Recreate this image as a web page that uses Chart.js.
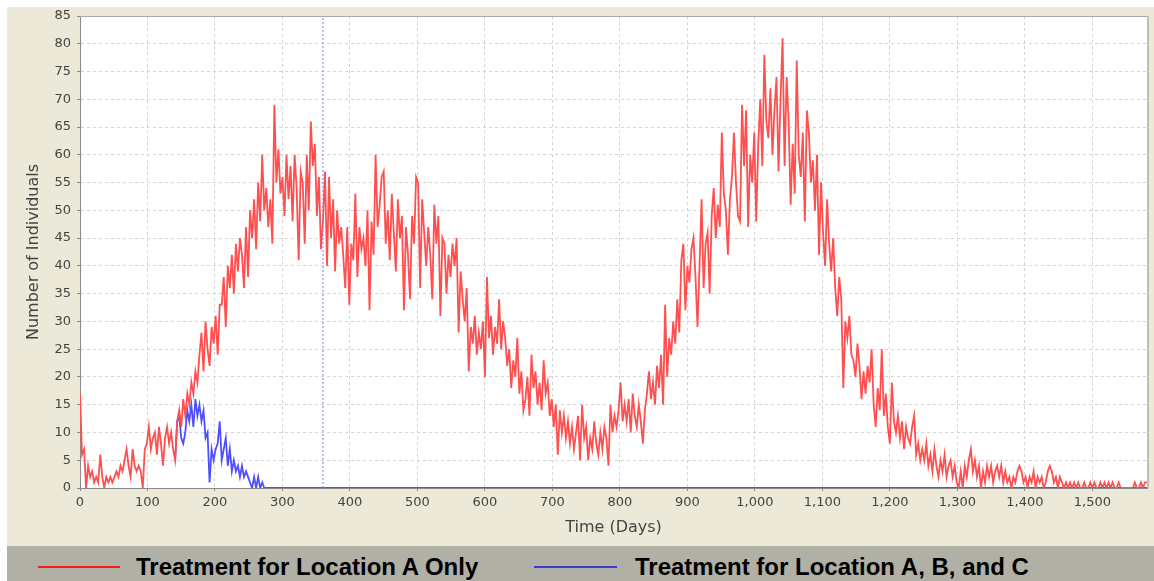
<!DOCTYPE html>
<html><head><meta charset="utf-8">
<script src="https://cdn.jsdelivr.net/npm/chart.js@4.4.1/dist/chart.umd.min.js"></script>
<style>
html,body{margin:0;padding:0;background:#fff;}
body{width:1154px;height:581px;position:relative;overflow:hidden;}
#panel{position:absolute;left:7px;top:7px;width:1147px;height:539px;background:#ECE9D8;}
#legend{position:absolute;left:7px;top:546px;width:1147px;height:35px;background:#B1B0A6;}
.sw{position:absolute;top:20px;height:2px;}
.lt{position:absolute;top:9px;font:bold 24px "Liberation Sans",Arial,sans-serif;line-height:24px;color:#000;white-space:nowrap;}
</style></head>
<body>
<div id="panel"><canvas id="c" width="1147" height="539"></canvas></div>
<div id="legend">
  <div class="sw" style="left:31px;width:82px;background:#ff1a1a;"></div>
  <div class="lt" style="left:129px;">Treatment for Location A Only</div>
  <div class="sw" style="left:527px;width:83px;background:#3a3acc;"></div>
  <div class="lt" style="left:628px;">Treatment for Location A, B, and C</div>
</div>
<script>
// ---- data ----
const STEP = 3; // days between samples
const xMin = 0, xMax = 1581, xStep = 100;
const yMin = 0, yMax = 85, yStep = 5;
const markerDay = 360;
const seriesNames = ['Treatment for Location A Only', 'Treatment for Location A, B, and C'];
// Treatment for Location A Only: sampled every 3 days from day 0
const redValues = [
  17, 6, 7, 0, 4, 2, 3, 1, 2, 1,
  6, 2, 0, 2, 1, 2, 1, 2, 3, 2,
  4, 3, 5, 7, 4, 2, 7, 4, 3, 4,
  3, 0, 7, 8, 11, 7, 9, 10, 6, 11,
  8, 4, 9, 11, 8, 10, 7, 5, 12, 14,
  11, 16, 13, 17, 15, 19, 17, 21, 19, 24,
  28, 21, 30, 25, 22, 29, 26, 31, 24, 33,
  33, 38, 29, 40, 36, 42, 35, 44, 39, 45,
  42, 36, 47, 38, 50, 45, 52, 43, 55, 48,
  60, 50, 54, 47, 52, 44, 69, 55, 61, 53,
  56, 49, 60, 52, 58, 48, 60, 54, 41, 57,
  55, 44, 60, 50, 66, 58, 62, 49, 56, 43,
  48, 57, 40, 56, 45, 52, 39, 50, 44, 47,
  42, 36, 47, 33, 44, 41, 53, 38, 47, 43,
  45, 40, 50, 32, 48, 42, 60, 47, 51, 56,
  57, 44, 50, 41, 53, 46, 39, 52, 45, 49,
  32, 47, 42, 34, 49, 44, 56, 55, 36, 52,
  46, 40, 47, 42, 34, 51, 44, 49, 31, 45,
  44, 35, 42, 38, 44, 40, 45, 28, 39, 34,
  30, 36, 21, 29, 26, 31, 24, 28, 25, 30,
  20, 38, 27, 31, 24, 29, 26, 34, 25, 30,
  27, 22, 25, 18, 23, 20, 27, 17, 21, 14,
  16, 20, 13, 24, 18, 21, 15, 19, 14, 23,
  17, 19, 13, 16, 11, 15, 6, 14, 10, 13,
  9, 12, 8, 11, 7, 10, 13, 5, 15, 9,
  11, 5, 9, 7, 12, 8, 6, 10, 7, 11,
  9, 4, 15, 10, 13, 11, 14, 19, 12, 15,
  12, 16, 10, 17, 13, 11, 15, 12, 8, 14,
  17, 21, 16, 19, 15, 22, 18, 24, 15, 33,
  20, 27, 24, 30, 26, 34, 28, 41, 44, 32,
  40, 37, 43, 45, 38, 29, 40, 52, 36, 44,
  46, 35, 49, 54, 45, 51, 47, 64, 53, 50,
  42, 52, 56, 64, 55, 49, 48, 69, 58, 68,
  47, 60, 55, 64, 48, 62, 70, 58, 78, 66,
  63, 72, 60, 68, 74, 57, 70, 81, 58, 74,
  66, 51, 62, 53, 77, 60, 56, 64, 48, 68,
  64, 55, 59, 50, 60, 42, 55, 46, 40, 52,
  44, 39, 45, 36, 31, 38, 34, 18, 30, 27,
  31, 24, 23, 20, 26, 22, 16, 21, 17, 22,
  19, 25, 15, 11, 18, 14, 25, 13, 17, 11,
  8, 19, 12, 10, 13, 9, 12, 7, 11, 9,
  8, 11, 13, 6, 8, 5, 7, 5, 8, 4,
  6, 3, 7, 4, 2, 5, 3, 6, 2, 4,
  5, 2, 4, 1, 0, 3, 0, 4, 2, 5,
  7, 3, 5, 2, 4, 0, 3, 1, 4, 2,
  4, 1, 3, 4, 2, 4, 1, 3, 1, 2,
  0, 2, 1, 3, 4, 3, 1, 2, 0, 2,
  1, 3, 0, 2, 1, 2, 0, 1, 3, 4,
  3, 1, 2, 0, 2, 1, 0, 1, 0, 1,
  0, 1, 0, 1, 0, 0, 1, 0, 0, 1,
  0, 1, 0, 0, 1, 0, 1, 0, 1, 0,
  1, 0, 0, 1, 0, 0, 0, 0, 0, 0,
  0, 1, 0, 0, 1, 0, 1, 1
];
// Treatment for Location A, B, and C: identical to red before day 141, sampled every 3 days from day 141
const blueStartDay = 141;
const blueValues = [
  5, 12, 13, 9, 8, 10, 14, 12, 15, 11,
  16, 13, 15, 12, 14, 9, 10, 1, 7, 5,
  7, 8, 12, 5, 7, 9, 4, 7, 3, 5,
  3, 4, 2, 4, 2, 3, 2, 1, 0, 2,
  0, 2, 0, 1, 0
];
const blueEndDay = 1581, blueEndValue = 0; // stays at zero to the end

// ---- build datasets ----
const redData = redValues.map((v, i) => ({x: i * STEP, y: v}));
const blueData = blueValues.map((v, i) => ({x: blueStartDay + i * STEP, y: v}))
  .concat([{x: blueEndDay, y: blueEndValue}]);
const markerData = [{x: markerDay, y: yMin}, {x: markerDay, y: yMax}];

const plotFrame = {
  id: 'plotFrame',
  beforeDraw(chart) {
    const {ctx, chartArea: a} = chart;
    ctx.save();
    ctx.fillStyle = '#ffffff';
    ctx.fillRect(a.left, a.top, a.right - a.left, a.bottom - a.top);
    ctx.restore();
  },
  afterDraw(chart) {
    const {ctx, chartArea: a} = chart;
    ctx.save();
    ctx.strokeStyle = '#a9a9a9'; ctx.lineWidth = 1;
    ctx.beginPath(); ctx.moveTo(a.left, a.top + 0.5); ctx.lineTo(a.right, a.top + 0.5); ctx.stroke();
    ctx.strokeStyle = '#bdbdbd'; ctx.lineWidth = 2;
    ctx.beginPath(); ctx.moveTo(a.right + 1, a.top); ctx.lineTo(a.right + 1, a.bottom); ctx.stroke();
    ctx.restore();
  }
};

Chart.defaults.font.family = '"DejaVu Sans", Verdana, sans-serif';
new Chart(document.getElementById('c'), {
  type: 'line',
  data: {
    datasets: [
      {label: 'marker', data: markerData, borderColor: '#7c7cff', borderWidth: 1, borderDash: [2, 2], pointRadius: 0},
      {label: seriesNames[0], data: redData, borderColor: '#ff4f4f', borderWidth: 1.8, pointRadius: 0, tension: 0},
      {label: seriesNames[1], data: blueData, borderColor: '#4f4fff', borderWidth: 1.8, pointRadius: 0, tension: 0}
    ]
  },
  options: {
    responsive: false, animation: false, devicePixelRatio: 1,
    layout: {padding: {left: 0, top: 9, right: 7, bottom: 0}},
    plugins: {legend: {display: false}, tooltip: {enabled: false}},
    scales: {
      x: {
        type: 'linear', min: xMin, max: xMax,
        afterFit: s => { s.height = 58; s.paddingLeft = 0; s.paddingRight = 0; },
        ticks: {stepSize: xStep, includeBounds: false, autoSkip: false, maxRotation: 0,
          color: '#444', font: {size: 13}, padding: 4,
          callback: v => v.toLocaleString('en-US')},
        grid: {color: '#d4d4d4', tickColor: '#888', tickLength: 3, tickBorderDash: []},
        border: {display: true, color: '#8a8a8a', width: 1, dash: [3, 3]},
        title: {display: true, text: 'Time (Days)', color: '#444', font: {size: 16}, padding: {top: 0, bottom: 9}}
      },
      y: {
        min: yMin, max: yMax,
        afterFit: s => { s.width = 73; s.paddingTop = 0; s.paddingBottom = 0; },
        ticks: {stepSize: yStep, color: '#444', font: {size: 13}, padding: 6},
        grid: {color: '#d4d4d4', tickColor: '#888', tickLength: 3, tickBorderDash: []},
        border: {display: true, color: '#8a8a8a', width: 1, dash: [3, 3]},
        title: {display: true, text: 'Number of Individuals', color: '#444', font: {size: 16}, padding: {top: 17, bottom: 0}}
      }
    }
  },
  plugins: [plotFrame]
});
</script>
</body></html>
